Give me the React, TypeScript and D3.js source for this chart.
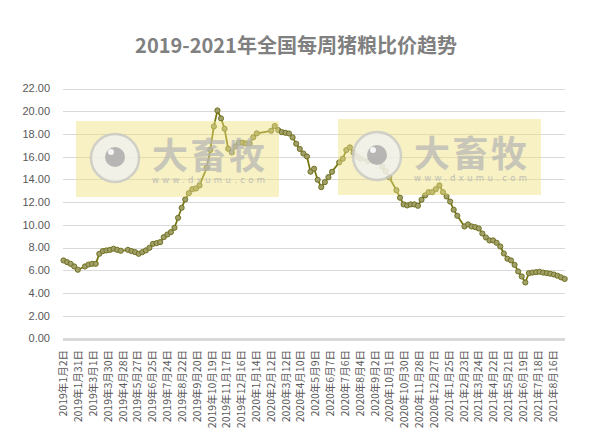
import React, { useEffect, useRef } from 'react';
import * as d3 from 'd3';

const W = 614;
const H = 436;

const TITLE = '2019-2021年全国每周猪粮比价趋势';
const START_DATE = '2019-01-02';

// weekly pig-grain price ratio (null = no release that week)
const RATIO: (number | null)[] = [
  6.87, 6.72, 6.57, 6.34, 6.05, null, 6.34, 6.51, 6.57, 6.57,
  7.45, 7.69, 7.75, 7.80, 7.90, 7.80, 7.72, null, 7.80, 7.69,
  7.60, 7.45, 7.60, 7.75, 7.98, 8.33, 8.39, 8.48, 8.92, 9.15,
  9.36, 9.74, 10.62, 11.50, 12.24, 12.79, 13.14, 13.20, 13.47, null,
  15.03, 16.60, 18.66, 20.07, 19.37, 18.46, 16.70, 16.37, 16.90, 17.23,
  17.23, 17.17, 17.17, 17.70, 18.05, null, null, null, 18.28, 18.70,
  18.34, 18.16, 18.10, 18.04, 17.70, 17.14, 16.68, 16.28, 16.02, 14.68,
  14.94, 13.97, 13.32, 13.76, 14.20, 14.67, null, 15.50, 15.82, 16.58,
  16.82, 16.35, 16.02, 15.82, null, 15.61, 15.73, 15.67, 15.67, 15.14,
  14.73, 14.18, null, 13.05, 12.39, 11.80, 11.71, 11.80, 11.80, 11.68,
  12.21, 12.59, 12.88, 12.88, 13.14, 13.47, 12.88, 12.50, 12.05, 11.33,
  10.80, null, 9.86, 10.04, 9.86, 9.80, 9.68, 9.24, 8.89, 8.63,
  8.63, 8.42, 8.10, 7.48, 7.02, 6.87, 6.48, 5.90, 5.46, 4.93,
  5.75, 5.80, 5.84, 5.87, 5.80, 5.75, 5.70, 5.63, 5.52, 5.38,
  5.24,
];

const TICK_LABELS = [
  '2019年1月2日', '2019年1月31日', '2019年3月1日', '2019年3月30日', '2019年4月28日',
  '2019年5月27日', '2019年6月25日', '2019年7月24日', '2019年8月22日', '2019年9月20日',
  '2019年10月19日', '2019年11月17日', '2019年12月16日', '2020年1月14日', '2020年2月12日',
  '2020年3月12日', '2020年4月10日', '2020年5月9日', '2020年6月7日', '2020年7月6日',
  '2020年8月4日', '2020年9月2日', '2020年10月1日', '2020年10月30日', '2020年11月28日',
  '2020年12月27日', '2021年1月25日', '2021年2月23日', '2021年3月24日', '2021年4月22日',
  '2021年5月21日', '2021年6月19日', '2021年7月18日', '2021年8月16日',
];

const Y_TICKS = [0, 2, 4, 6, 8, 10, 12, 14, 16, 18, 20, 22];

const WATERMARK_TEXT = '大畜牧';
const WATERMARK_URL = 'www.dxumu.com';

function parseCn(s: string): Date {
  const m = s.match(/(\d+)年(\d+)月(\d+)日/)!;
  return new Date(Date.UTC(+m[1], +m[2] - 1, +m[3]));
}

export default function App() {
  const ref = useRef<SVGSVGElement>(null);

  useEffect(() => {
    const svg = d3.select(ref.current);
    svg.selectAll('*').remove();

    const start = new Date(START_DATE + 'T00:00:00Z');
    const dates = RATIO.map((_, i) => d3.utcDay.offset(start, i * 7));
    const data = RATIO.map((v, i) => ({ d: dates[i], v })).filter((p) => p.v !== null) as { d: Date; v: number }[];

    const x = d3.scaleUtc().domain([dates[0], dates[dates.length - 1]]).range([63.5, 564.7]);
    const y = d3.scaleLinear().domain([0, 22]).range([338.5, 88.5]);

    svg.append('rect').attr('width', W).attr('height', H).attr('fill', '#ffffff');

    // title
    svg.append('text')
      .attr('x', 296).attr('y', 53)
      .attr('text-anchor', 'middle')
      .attr('font-family', '"Noto Sans CJK SC", "Noto Sans", sans-serif')
      .attr('font-weight', 'bold')
      .attr('font-size', 20)
      .attr('fill', '#808080')
      .text(TITLE);

    // grid
    const [x0, x1] = [63, 565];
    svg.append('g').selectAll('line').data(Y_TICKS.filter((t) => t > 0)).join('line')
      .attr('x1', x0).attr('x2', x1)
      .attr('y1', (d) => Math.round(y(d)) + 0.5).attr('y2', (d) => Math.round(y(d)) + 0.5)
      .attr('stroke', '#d9d9d9').attr('stroke-width', 1);

    // y labels
    svg.append('g').selectAll('text').data(Y_TICKS).join('text')
      .attr('x', 50).attr('y', (d) => y(d)).attr('dy', '0.35em')
      .attr('text-anchor', 'end')
      .attr('font-family', '"Liberation Sans", Arial, sans-serif')
      .attr('font-size', 11)
      .attr('fill', '#595959')
      .text((d) => d3.format('.2f')(d));

    // base axis line
    svg.append('line')
      .attr('x1', x0).attr('x2', x1)
      .attr('y1', y(0) + 1).attr('y2', y(0) + 1)
      .attr('stroke', '#d9d9d9').attr('stroke-width', 3);

    // x labels
    svg.append('g').selectAll('text').data(TICK_LABELS).join('text')
      .attr('transform', (d) => `translate(${x(parseCn(d))},350) rotate(-90)`)
      .attr('dy', '0.35em')
      .attr('text-anchor', 'end')
      .attr('font-family', '"Noto Sans CJK SC", sans-serif')
      .attr('font-size', 10.5)
      .attr('fill', '#595959')
      .text((d) => d);

    // line
    const line = d3.line<{ d: Date; v: number }>().x((p) => x(p.d)).y((p) => y(p.v));
    svg.append('path').datum(data)
      .attr('d', line)
      .attr('fill', 'none')
      .attr('stroke', '#76760e')
      .attr('stroke-width', 1.75)
      .attr('stroke-linejoin', 'round');

    svg.append('g').selectAll('circle').data(data).join('circle')
      .attr('cx', (p) => x(p.d)).attr('cy', (p) => y(p.v))
      .attr('r', 2.6)
      .attr('fill', '#a0a068')
      .attr('stroke', '#6b6b1c')
      .attr('stroke-width', 0.9);

    // watermarks (overlay)
    [[0, 0], [262, -2]].forEach(([dx, dy]) => {
      const g = svg.append('g').attr('transform', `translate(${dx},${dy})`);
      g.append('rect').attr('x', 76).attr('y', 121).attr('width', 203).attr('height', 76)
        .attr('fill', '#ede07a').attr('opacity', 0.45);
      g.append('circle').attr('cx', 115).attr('cy', 158).attr('r', 24)
        .attr('fill', '#f2f2f2').attr('stroke', '#c8c8c8').attr('stroke-width', 2.5).attr('opacity', 0.8);
      g.append('circle').attr('cx', 115).attr('cy', 157).attr('r', 10)
        .attr('fill', '#a8a8a8').attr('opacity', 0.8);
      g.append('circle').attr('cx', 111).attr('cy', 152).attr('r', 3)
        .attr('fill', '#f4f4f4');
      g.append('text').attr('x', 152).attr('y', 169)
        .attr('font-family', '"Noto Sans CJK SC", sans-serif')
        .attr('font-weight', 'bold')
        .attr('font-size', 36)
        .attr('fill', '#b4b4b4').attr('opacity', 0.7)
        .attr('textLength', 113)
        .text(WATERMARK_TEXT);
      g.append('text').attr('x', 152).attr('y', 183)
        .attr('font-family', '"DejaVu Sans", sans-serif')
        .attr('font-size', 8.5)
        .attr('fill', '#b4b4b4').attr('opacity', 0.8)
        .attr('textLength', 113)
        .text(WATERMARK_URL);
    });
  }, []);

  return (
    <svg
      ref={ref}
      width={W}
      height={H}
      style={{ position: 'absolute', left: 0, top: 0, display: 'block' }}
    />
  );
}
